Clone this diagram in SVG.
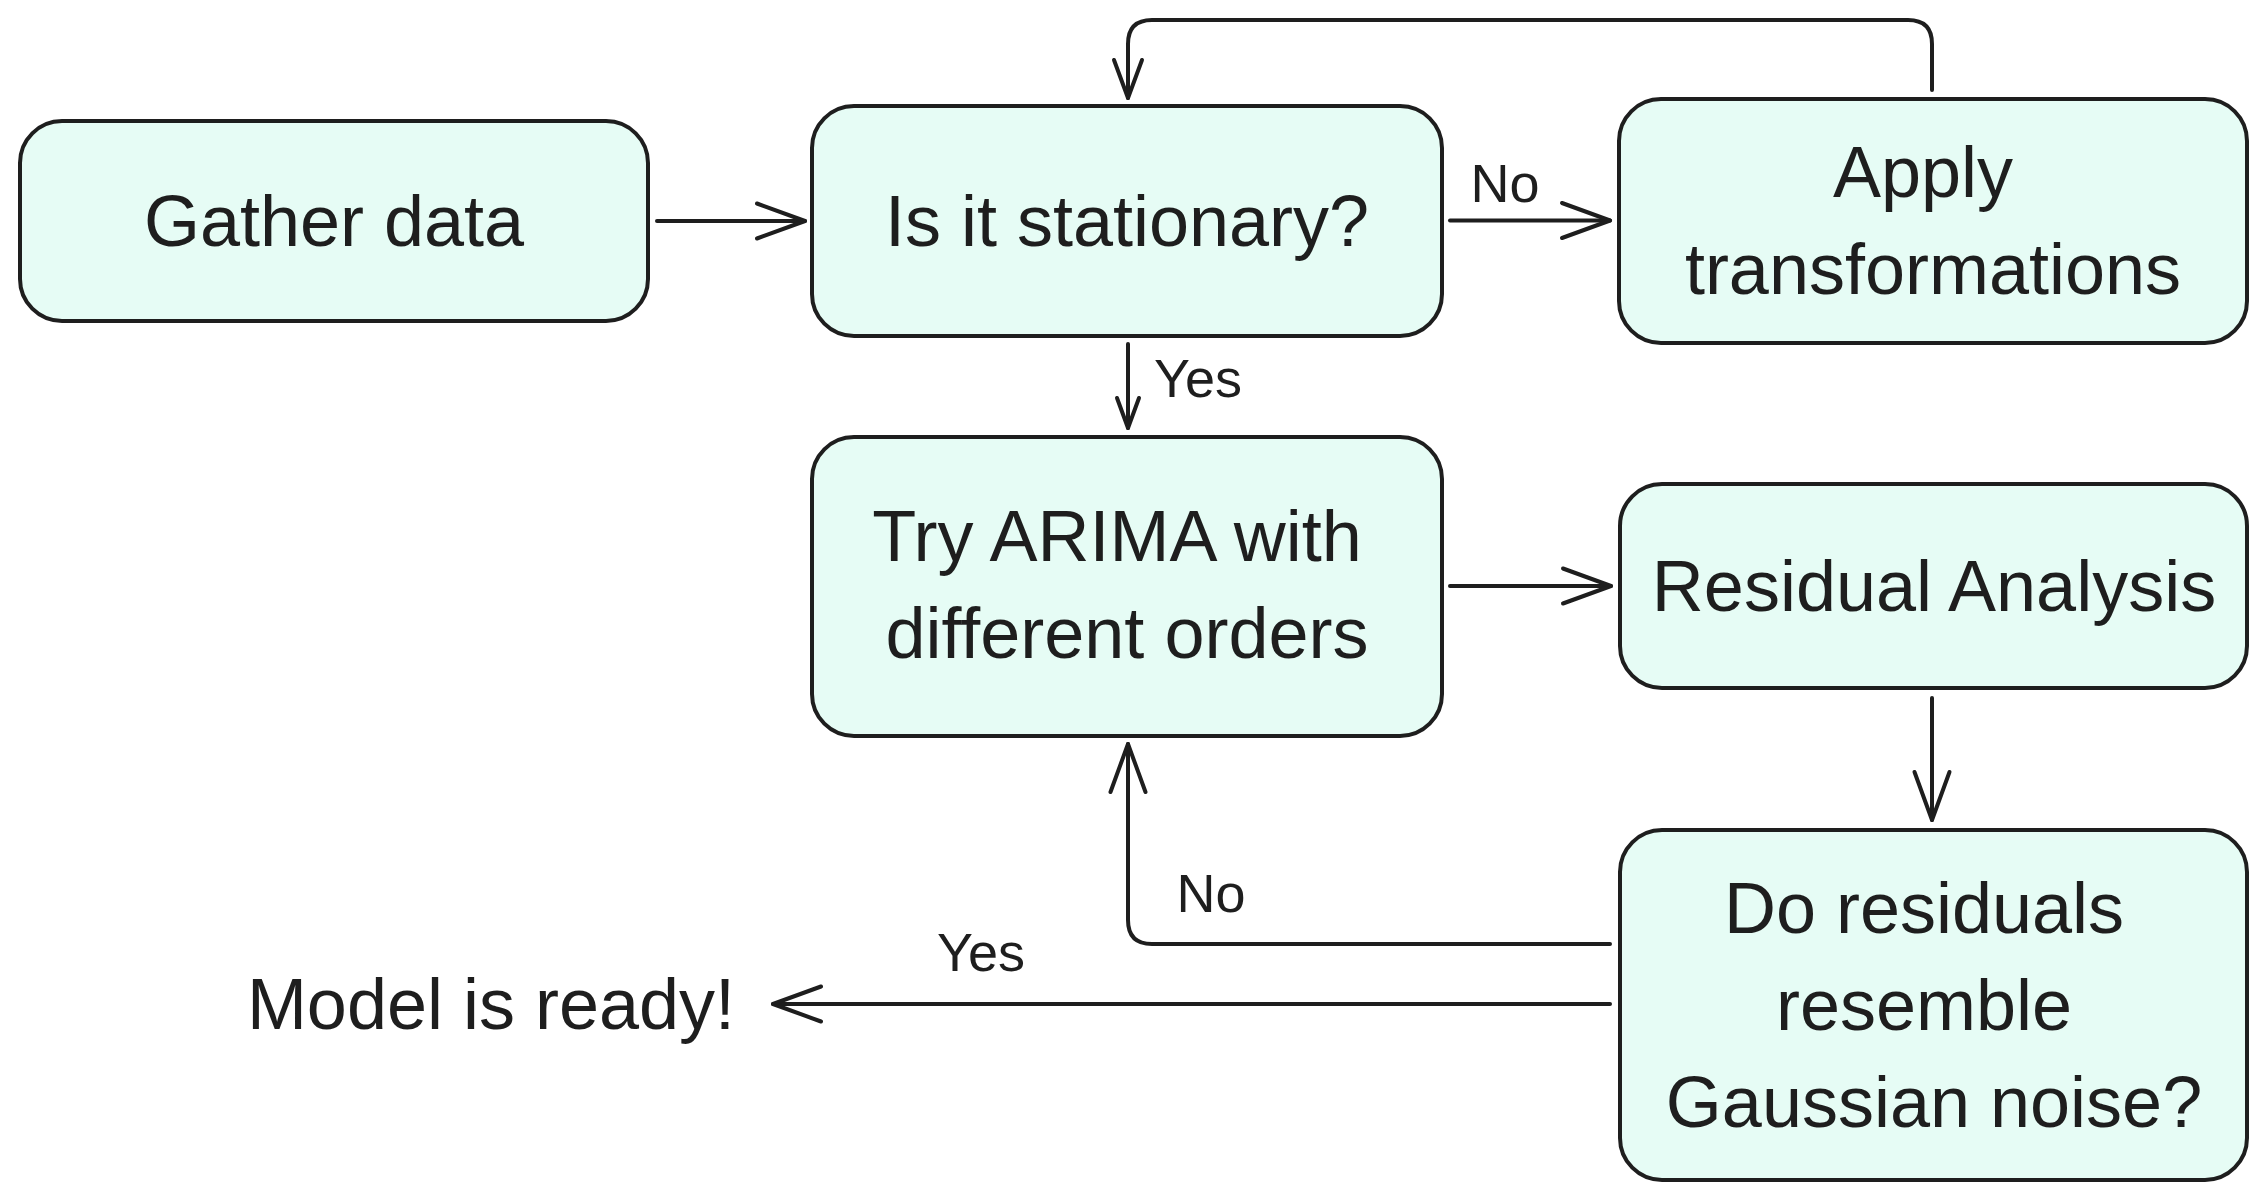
<svg xmlns="http://www.w3.org/2000/svg" width="2267" height="1200" viewBox="0 0 2267 1200">
  <style>
    .node rect { fill: #e6fcf5; stroke: #1e1e1e; stroke-width: 4; }
    .t { font-family: "Liberation Sans", Arial, sans-serif; font-size: 72px; fill: #1e1e1e; text-anchor: middle; }
    .lbl { font-family: "Liberation Sans", Arial, sans-serif; font-size: 54px; fill: #1e1e1e; text-anchor: middle; }
    .edge { fill: none; stroke: #1e1e1e; stroke-width: 4; stroke-linecap: round; stroke-linejoin: round; }
    .head { fill: none; stroke: #1e1e1e; stroke-width: 4; stroke-linecap: round; stroke-linejoin: round; }
  </style>
  <defs>
    <marker id="arrow" markerUnits="userSpaceOnUse" viewBox="-54 -24 60 48" refX="0" refY="0" markerWidth="60" markerHeight="48" orient="auto" overflow="visible">
      <path class="head" d="M-48,-17.5 L0,0 L-48,17.5"/>
    </marker>
    <marker id="arrowMd" markerUnits="userSpaceOnUse" viewBox="-44 -20 50 40" refX="0" refY="0" markerWidth="50" markerHeight="40" orient="auto" overflow="visible">
      <path class="head" d="M-38,-14 L0,0 L-38,14"/>
    </marker>
    <marker id="arrowSm" markerUnits="userSpaceOnUse" viewBox="-36 -16 42 32" refX="0" refY="0" markerWidth="42" markerHeight="32" orient="auto" overflow="visible">
      <path class="head" d="M-30,-11 L0,0 L-30,11"/>
    </marker>
  </defs>

  <g id="edges">
    <path class="edge" d="M657 221 H805" marker-end="url(#arrow)"/>
    <path class="edge" d="M1450 220.5 H1610" marker-end="url(#arrow)"/>
    <path class="edge" d="M1128 344 V428" marker-end="url(#arrowSm)"/>
    <path class="edge" d="M1932 90 V44 Q1932 20 1908 20 H1152 Q1128 20 1128 44 V98" marker-end="url(#arrowMd)"/>
    <path class="edge" d="M1450 586 H1611" marker-end="url(#arrow)"/>
    <path class="edge" d="M1932 698 V820" marker-end="url(#arrow)"/>
    <path class="edge" d="M1610 944 H1152 Q1128 944 1128 920 V744" marker-end="url(#arrow)"/>
    <path class="edge" d="M1610 1004 H773" marker-end="url(#arrow)"/>
    <text class="lbl" x="1505" y="202">No</text>
    <text class="lbl" x="1198" y="397">Yes</text>
    <text class="lbl" x="1211" y="912">No</text>
    <text class="lbl" x="981" y="971">Yes</text>
  </g>

  <g id="gather" class="node">
    <rect x="20" y="121" width="628" height="200" rx="42" ry="42"/>
    <text class="t" x="334" y="246">Gather data</text>
  </g>
  <g id="stationary" class="node">
    <rect x="812" y="106" width="630" height="230" rx="42" ry="42"/>
    <text class="t" x="1127" y="246">Is it stationary?</text>
  </g>
  <g id="transform" class="node">
    <rect x="1619" y="99" width="628" height="244" rx="42" ry="42"/>
    <text class="t" x="1923" y="197">Apply</text>
    <text class="t" x="1933" y="294">transformations</text>
  </g>
  <g id="arima" class="node">
    <rect x="812" y="437" width="630" height="299" rx="42" ry="42"/>
    <text class="t" x="1117" y="561">Try ARIMA with</text>
    <text class="t" x="1127" y="658">different orders</text>
  </g>
  <g id="residual" class="node">
    <rect x="1620" y="484" width="627" height="204" rx="42" ry="42"/>
    <text class="t" x="1934" y="611">Residual Analysis</text>
  </g>
  <g id="gaussian" class="node">
    <rect x="1620" y="830" width="627" height="350" rx="42" ry="42"/>
    <text class="t" x="1924" y="933">Do residuals</text>
    <text class="t" x="1924" y="1030">resemble</text>
    <text class="t" x="1934" y="1127">Gaussian noise?</text>
  </g>
  <g id="ready">
    <text class="t" x="491" y="1029">Model is ready!</text>
  </g>
</svg>
